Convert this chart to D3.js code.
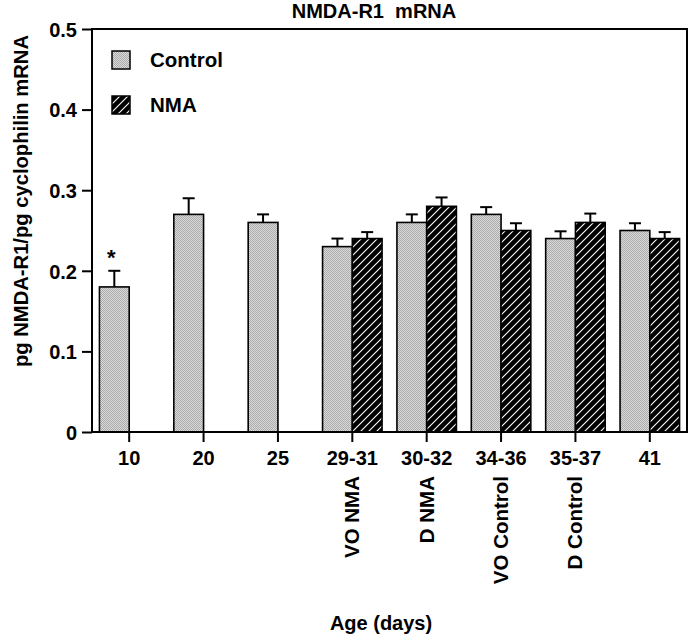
<!DOCTYPE html>
<html>
<head>
<meta charset="utf-8">
<script src="https://cdn.jsdelivr.net/npm/d3@7"></script>
<style>
  html, body { margin: 0; padding: 0; background: #fff; }
  svg { display: block; }
  text { font-family: "Liberation Sans", Arial, Helvetica, sans-serif; font-weight: bold; fill: #000; }
</style>
</head>
<body>
<svg id="chart" width="693" height="644"></svg>
<script>
const categories = ["10", "20", "25", "29-31", "30-32", "34-36", "35-37", "41"];
const subLabels = ["", "", "", "VO NMA", "D NMA", "VO Control", "D Control", ""];
const controlValues = [0.18, 0.27, 0.26, 0.23, 0.26, 0.27, 0.24, 0.25];
const controlErrors = [0.02, 0.02, 0.01, 0.01, 0.01, 0.009, 0.009, 0.009];
const nmaValues = [null, null, null, 0.24, 0.28, 0.25, 0.26, 0.24];
const nmaErrors = [null, null, null, 0.008, 0.011, 0.009, 0.011, 0.008];
const yTicks = [0, 0.1, 0.2, 0.3, 0.4, 0.5];
const yTickLabels = ["0", "0.1", "0.2", "0.3", "0.4", "0.5"];
const seriesNames = ["Control", "NMA"];
const significant = ["*", "", "", "", "", "", "", ""];

(function () {
const svg = d3.select("#chart");
const mLeft = 92, mRight = 687, mTop = 29, mBottom = 432;

const x = d3.scaleBand().domain(categories).range([mLeft, mRight]).padding(0);
const y = d3.scaleLinear().domain([0, 0.5]).range([mBottom, mTop]);
const barW = x.bandwidth() * 0.4;

const defs = svg.append("defs");
const stip = defs.append("pattern").attr("id", "stipple")
  .attr("patternUnits", "userSpaceOnUse").attr("width", 2).attr("height", 2);
stip.append("rect").attr("width", 2).attr("height", 2).attr("fill", "#dadada");
stip.append("rect").attr("width", 1).attr("height", 1).attr("fill", "#ababab");
stip.append("rect").attr("x", 1).attr("y", 1).attr("width", 1).attr("height", 1).attr("fill", "#ababab");

const hatch = defs.append("pattern").attr("id", "hatch")
  .attr("patternUnits", "userSpaceOnUse").attr("width", 8).attr("height", 8);
hatch.append("rect").attr("width", 8).attr("height", 8).attr("fill", "#000");
hatch.append("path").attr("d", "M-2,2 L2,-2 M0,8 L8,0 M6,10 L10,6")
  .attr("stroke", "#fff").attr("stroke-width", 1.1);

const rows = categories.map((c, i) => ({
  cat: c, ctrl: controlValues[i], ctrlE: controlErrors[i],
  nma: nmaValues[i], nmaE: nmaErrors[i], sig: significant[i], sub: subLabels[i]
}));

const barData = [];
rows.forEach(r => {
  const cx = x(r.cat) + x.bandwidth() / 2;
  barData.push({ x0: cx - barW, v: r.ctrl, e: r.ctrlE, fill: "url(#stipple)" });
  if (r.nma !== null) barData.push({ x0: cx, v: r.nma, e: r.nmaE, fill: "url(#hatch)" });
});

const eb = svg.append("g").attr("stroke", "#000").attr("stroke-width", 2).attr("fill", "none");
barData.forEach(d => {
  const mx = d.x0 + barW / 2;
  eb.append("line").attr("x1", mx).attr("x2", mx).attr("y1", y(d.v)).attr("y2", y(d.v + d.e));
  eb.append("line").attr("x1", mx - 6).attr("x2", mx + 6).attr("y1", y(d.v + d.e)).attr("y2", y(d.v + d.e));
});

svg.append("g").selectAll("rect").data(barData).join("rect")
  .attr("x", d => d.x0).attr("width", barW)
  .attr("y", d => y(d.v)).attr("height", d => y(0) - y(d.v))
  .attr("fill", d => d.fill).attr("stroke", "#000").attr("stroke-width", 1.6);

rows.forEach(r => {
  if (r.sig) {
    svg.append("text").attr("x", x(r.cat) + x.bandwidth() / 2 - barW / 2 - 3)
      .attr("y", y(r.ctrl + r.ctrlE) - 6).attr("text-anchor", "middle")
      .attr("font-size", 22).text(r.sig);
  }
});

svg.append("rect").attr("x", mLeft).attr("y", mTop).attr("width", mRight - mLeft).attr("height", mBottom - mTop)
  .attr("fill", "none").attr("stroke", "#000").attr("stroke-width", 2);

const yAxis = svg.append("g").attr("transform", `translate(${mLeft},0)`)
  .call(d3.axisLeft(y).tickValues(yTicks).tickSize(10).tickPadding(5)
    .tickFormat((d, i) => yTickLabels[i]));
yAxis.select(".domain").remove();
yAxis.selectAll("line").attr("stroke", "#000").attr("stroke-width", 2);
yAxis.selectAll("text").attr("font-size", 20).attr("font-family", null).attr("font-weight", "bold").attr("dy", "0.36em");

const xAxis = svg.append("g").attr("transform", `translate(0,${mBottom})`)
  .call(d3.axisBottom(x).tickSize(10).tickPadding(0));
xAxis.select(".domain").remove();
xAxis.selectAll("line").attr("stroke", "#000").attr("stroke-width", 2);
xAxis.selectAll("text").attr("font-size", 20).attr("font-family", null).attr("font-weight", "bold").attr("dy", null).attr("y", 33);

rows.forEach(r => {
  if (r.sub) {
    const cx = x(r.cat) + x.bandwidth() / 2 + 7;
    svg.append("text").attr("transform", `translate(${cx},476) rotate(-90)`)
      .attr("text-anchor", "end").attr("font-size", 20.5).text(r.sub);
  }
});

svg.append("text").attr("x", 374).attr("y", 18).attr("text-anchor", "middle")
  .attr("font-size", 20).style("white-space", "pre").text("NMDA-R1  mRNA");

svg.append("text").attr("transform", "translate(28,201) rotate(-90)")
  .attr("text-anchor", "middle").attr("font-size", 20.2).text("pg NMDA-R1/pg cyclophilin mRNA");

svg.append("text").attr("x", 381).attr("y", 630).attr("text-anchor", "middle")
  .attr("font-size", 20).text("Age (days)");

const fills = ["url(#stipple)", "url(#hatch)"];
const legY = [51, 96];
seriesNames.forEach((n, i) => {
  svg.append("rect").attr("x", 112).attr("y", legY[i]).attr("width", 18).attr("height", 18)
    .attr("fill", fills[i]).attr("stroke", "#000").attr("stroke-width", 1.5);
  svg.append("text").attr("x", 150).attr("y", legY[i] + 15.5).attr("font-size", 20.5).text(n);
});
})();
</script>
</body>
</html>
